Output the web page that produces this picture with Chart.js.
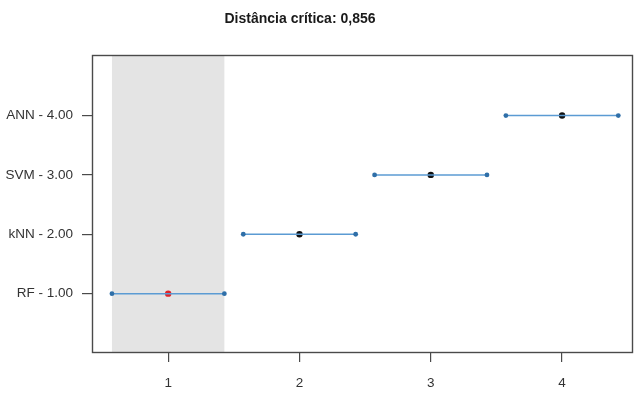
<!DOCTYPE html>
<html>
<head>
<meta charset="utf-8">
<script src="https://cdn.jsdelivr.net/npm/chart.js@4"></script>
<style>
  body { margin: 0; background: #fff; overflow: hidden; }
</style>
</head>
<body>
<canvas id="chart" width="637" height="393"></canvas>
<script>
var models = ['RF', 'kNN', 'SVM', 'ANN'];
var ranks = [1.00, 2.00, 3.00, 4.00];
var criticalDistance = 0.856;
var xTicks = [1, 2, 3, 4];
var titleText = 'Distância crítica: 0,856';

var half = criticalDistance / 2;
var lineBlue = '#5b9bd3';
var dotBlue = '#2f6fa8';

// one horizontal interval per model
var datasets = models.map(function (m, i) {
  return {
    label: m,
    data: [{x: ranks[i] - half, y: i + 1}, {x: ranks[i] + half, y: i + 1}],
    showLine: true,
    borderColor: lineBlue,
    borderWidth: 1.5,
    pointRadius: 2.4,
    pointBackgroundColor: dotBlue,
    pointBorderColor: dotBlue,
    pointBorderWidth: 0
  };
});

// mean rank points, best model in red
datasets.push({
  label: 'rank',
  data: models.map(function (m, i) { return {x: ranks[i], y: i + 1}; }),
  showLine: false,
  pointRadius: 3.2,
  pointBorderWidth: 0,
  pointBackgroundColor: models.map(function (m, i) { return i === 0 ? '#e02428' : '#111'; })
});

var boxPlugin = {
  id: 'box',
  beforeDatasetsDraw: function (chart) {
    var ctx = chart.ctx, a = chart.chartArea, xs = chart.scales.x;
    var x1 = xs.getPixelForValue(ranks[0] - half);
    var x2 = xs.getPixelForValue(ranks[0] + half);
    ctx.save();
    ctx.fillStyle = '#e4e4e4';
    ctx.fillRect(x1, a.top, x2 - x1, a.bottom - a.top);
    ctx.restore();
  },
  afterDraw: function (chart) {
    var ctx = chart.ctx, a = chart.chartArea;
    ctx.save();
    ctx.strokeStyle = '#4a4a4a';
    ctx.lineWidth = 1.4;
    ctx.strokeRect(a.left + 0.5, a.top + 0.5, a.right - a.left - 1, a.bottom - a.top - 1);
    ctx.fillStyle = '#1a1a1a';
    ctx.font = 'bold 14px "Liberation Sans", Arial, sans-serif';
    ctx.textAlign = 'center';
    ctx.textBaseline = 'middle';
    ctx.fillText(titleText, 300, 19);
    ctx.restore();
  }
};

new Chart(document.getElementById('chart'), {
  type: 'scatter',
  data: {datasets: datasets},
  plugins: [boxPlugin],
  options: {
    responsive: false,
    animation: false,
    layout: {padding: {top: 55, right: 0, left: 0, bottom: 0}},
    plugins: {legend: {display: false}, tooltip: {enabled: false}, title: {display: false}},
    scales: {
      x: {
        type: 'linear',
        min: 0.42,
        max: 4.54,
        afterBuildTicks: function (axis) {
          axis.ticks = xTicks.map(function (v) { return {value: v}; });
        },
        afterFit: function (axis) { axis.height = 40; },
        border: {display: false},
        grid: {drawOnChartArea: false, drawTicks: true, tickLength: 9, color: '#4a4a4a', lineWidth: 1.2},
        ticks: {
          padding: 13,
          color: '#333',
          font: {family: '"Liberation Sans", Arial, sans-serif', size: 13.5},
          callback: function (v) { return String(v); }
        }
      },
      y: {
        type: 'linear',
        min: 0,
        max: 5.02,
        afterBuildTicks: function (axis) {
          axis.ticks = models.map(function (m, i) { return {value: i + 1}; });
        },
        afterFit: function (axis) { axis.width = 92; },
        border: {display: false},
        grid: {drawOnChartArea: false, drawTicks: true, tickLength: 10, color: '#4a4a4a', lineWidth: 1.2},
        ticks: {
          padding: 9,
          color: '#333',
          font: {family: '"Liberation Sans", Arial, sans-serif', size: 13.5},
          callback: function (v) {
            var i = v - 1;
            return models[i] + ' - ' + ranks[i].toFixed(2);
          }
        }
      }
    }
  }
});
</script>
</body>
</html>
